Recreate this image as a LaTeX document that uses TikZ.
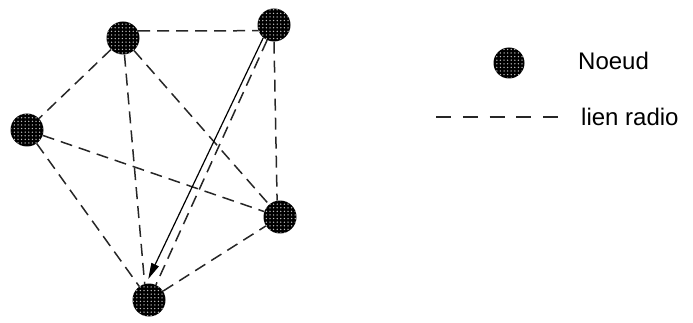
\documentclass[tikz,border=0pt]{standalone}
\usepackage{fontspec}
\setmainfont{Liberation Sans}
\usetikzlibrary{arrows.meta,patterns,backgrounds}
\pgfdeclarepatternformonly{bigdots}{\pgfqpoint{-1pt}{-1pt}}{\pgfqpoint{1pt}{1pt}}{\pgfqpoint{3.6pt}{3.6pt}}%
{\pgfpathcircle{\pgfqpoint{0pt}{0pt}}{0.75pt}\pgfusepath{fill}}
\begin{document}
\begin{tikzpicture}[x=1pt,y=-1pt,
  noeud/.style={circle,minimum size=33pt,inner sep=0pt,fill=black,
    postaction={pattern=bigdots,pattern color=white!75!black}},
  radio/.style={draw=black!85,line width=1.5pt,dash pattern=on 12pt off 7pt},
  fleche/.style={draw=black,line width=1.2pt,-{Triangle[length=16pt,width=8pt]},shorten >=5pt},
  lbl/.style={anchor=west,inner sep=0pt,font=\fontsize{24}{28}\selectfont}]
\useasboundingbox (0,0) rectangle (693,323);
% nodes
\node[noeud] (A) at (123,38) {};
\node[noeud] (B) at (274,25) {};
\node[noeud] (C) at (27,130) {};
\node[noeud] (D) at (280,217) {};
\node[noeud] (E) at (149,300) {};
% radio links
\begin{scope}[on background layer]
\draw[radio] (A.25) -- (B.200);
\draw[radio] (B.south) -- (D.100);
\draw[radio] (A) -- (C);
\draw[radio] (A) -- (E.105);
\draw[radio] (A) -- (D);
\draw[radio] (C) -- (D);
\draw[radio] (C) -- (E);
\draw[radio] (E) -- (D);
\draw[radio] (B) -- (E);
\draw[fleche] (B.-130) -- (E.100);
\end{scope}
% legend
\node[noeud,minimum size=31pt] (L) at (509,63) {};
\node[lbl] (Lt) at (578,61) {Noeud};
\coordinate (l1) at (436,117);
\coordinate (l2) at (558,117);
\draw[radio,dash pattern=on 15pt off 11.75pt] (l1) -- (l2);
\node[lbl] (Rt) at (581,117) {lien radio};
\end{tikzpicture}
\end{document}
